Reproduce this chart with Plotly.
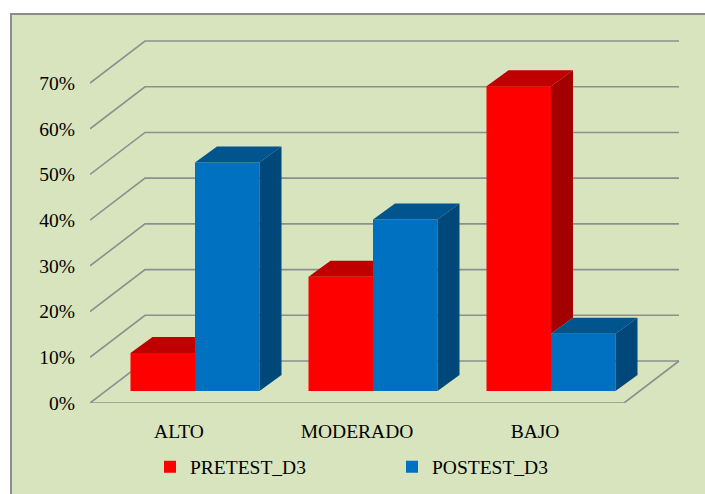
import plotly.graph_objects as go

# ---------------- data ----------------
categories = ["ALTO", "MODERADO", "BAJO"]
pretest = [8.33, 25.0, 66.67]
posttest = [50.0, 37.5, 12.5]
y_ticks = [0, 10, 20, 30, 40, 50, 60, 70]
series_names = ["PRETEST_D3", "POSTEST_D3"]

# ---------------- geometry / styles ----------------
W, H = 705, 494
ML, MR, MT, MB = 90, 15, 20, 91
PX_X = 178.0           # pixels per category
PX_Y = 4.571           # pixels per percentage point
plot_w = W - ML - MR
plot_h = H - MT - MB
X1 = plot_w / PX_X
Y1 = plot_h / PX_Y
DX, DY = 55 / PX_X, 42 / PX_Y     # depth of floor / walls
FX, FY = 16 / PX_X, 12 / PX_Y     # offset of bar front from front plane
SX, SY = 22 / PX_X, 16 / PX_Y     # bar depth
BW = 64.5 / PX_X                  # bar width
n = len(categories)
centers = [i + 0.5 for i in range(n)]

BG = "#D7E4BD"
GRID = "#8E8E8E"
RED, RED_TOP, RED_SIDE = "#FF0000", "#C00000", "#A30000"
BLUE, BLUE_TOP, BLUE_SIDE = "#0070C0", "#00558F", "#00487A"
FONT = dict(family="Liberation Serif", size=19.5, color="#000000")


def px_to_paper_x(px):
    return (px - ML) / plot_w


def px_to_paper_y(py):
    return (H - MB - py) / plot_h


fig = go.Figure()

# ---------------- chart frame ----------------
shapes = [dict(type="rect", xref="paper", yref="paper",
               x0=px_to_paper_x(11), y0=px_to_paper_y(H + 5),
               x1=px_to_paper_x(W + 5), y1=px_to_paper_y(14),
               line=dict(color="#8C8C8C", width=2), fillcolor=BG, layer="below")]

# ---------------- walls: gridlines + floor ----------------
for v in y_ticks:
    path = f"M {0},{v} L {DX},{v + DY} L {n + DX},{v + DY}"
    shapes.append(dict(type="path", xref="x", yref="y", path=path,
                       line=dict(color=GRID, width=1.6), layer="below"))
floor = f"M {0},{0} L {n},{0} L {n + DX},{DY}"
shapes.append(dict(type="path", xref="x", yref="y", path=floor,
                   line=dict(color=GRID, width=1.6), layer="below"))

# ---------------- bar fronts ----------------
xs = [c + FX for c in centers]
fig.add_trace(go.Bar(x=xs, y=pretest, base=FY, width=BW, offset=-BW,
                     marker=dict(color=RED, line=dict(width=0)),
                     name=series_names[0], hoverinfo="skip"))
fig.add_trace(go.Bar(x=xs, y=posttest, base=FY, width=BW, offset=0,
                     marker=dict(color=BLUE, line=dict(width=0)),
                     name=series_names[1], hoverinfo="skip"))


def face(px, py, color):
    fig.add_trace(go.Scatter(x=px + [px[0]], y=py + [py[0]], mode="lines",
                             line=dict(width=0, color=color), fill="toself",
                             fillcolor=color, hoverinfo="skip", showlegend=False))


# ---------------- 3D tops and sides ----------------
for i in range(n):
    R, B = pretest[i], posttest[i]
    xm = xs[i]
    x0r, x1r = xm - BW, xm
    x0b, x1b = xm, xm + BW
    tR, tB = FY + R, FY + B
    # red top
    if B > R:
        face([x0r, x1r, x1r, x0r + SX], [tR, tR, tR + SY, tR + SY], RED_TOP)
    else:
        face([x0r, x1r, x1r + SX, x0r + SX], [tR, tR, tR + SY, tR + SY], RED_TOP)
        # visible part of red side (above blue bar)
        face([x1r, x1r + SX, x1r + SX, x1r], [tB, tB + SY, tR + SY, tR], RED_SIDE)
    # blue top and side
    face([x0b, x1b, x1b + SX, x0b + SX], [tB, tB, tB + SY, tB + SY], BLUE_TOP)
    face([x1b, x1b + SX, x1b + SX, x1b], [FY, FY + SY, tB + SY, tB], BLUE_SIDE)

fig.update_layout(
    width=W, height=H,
    margin=dict(l=ML, r=MR, t=MT, b=MB, autoexpand=False),
    paper_bgcolor="white", plot_bgcolor="rgba(0,0,0,0)",
    barmode="overlay", shapes=shapes, font=FONT,
    showlegend=True,
    legend=dict(orientation="h", xref="container", yref="container",
                x=150 / W, xanchor="left",
                y=1 - 467 / H, yanchor="middle",
                bgcolor="rgba(0,0,0,0)", font=FONT, entrywidth=197,
                traceorder="normal"),
    xaxis=dict(range=[0, X1], tickvals=centers, ticktext=categories,
               showgrid=False, zeroline=False, showline=False, ticks="",
               ticklabelstandoff=14, tickfont=FONT, fixedrange=True,
               automargin=False),
    yaxis=dict(range=[0, Y1], tickvals=y_ticks,
               ticktext=[f"{v}%" for v in y_ticks],
               showgrid=False, zeroline=False, showline=False, ticks="",
               ticklabelstandoff=14, tickfont=FONT, fixedrange=True,
               automargin=False),
)

fig.write_html(
    "out.html",
    config={"displayModeBar": False},
    post_script="document.body.style.margin='0';document.body.style.overflow='hidden';",
)
